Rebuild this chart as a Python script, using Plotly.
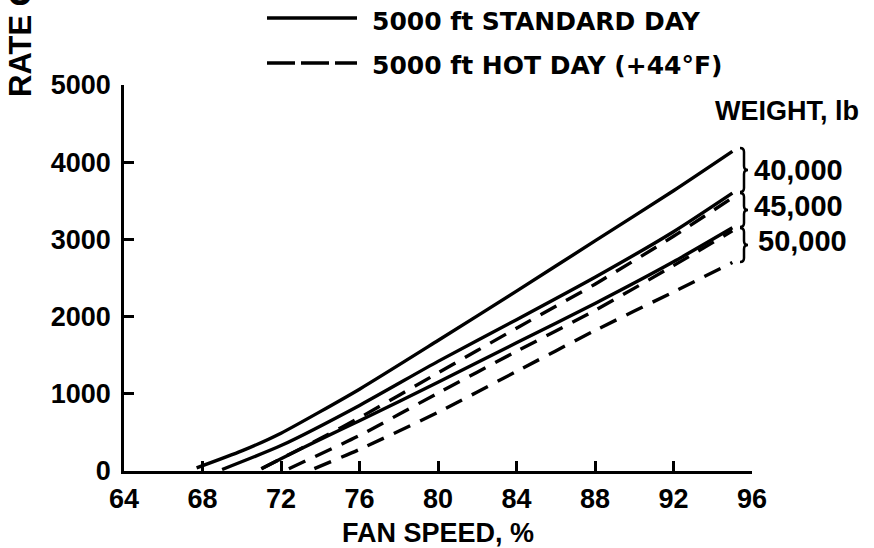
import plotly.graph_objects as go

W, H = 874, 548
L, R, T, B = 124, 122, 85, 77

# ---- data ----
x_ticks = [64, 68, 72, 76, 80, 84, 88, 92, 96]
y_ticks = [0, 1000, 2000, 3000, 4000, 5000]

std40_x = [67.7, 70, 72, 76, 80, 84, 88, 92, 95]
std40_y = [40, 260, 490, 1060, 1690, 2330, 2980, 3630, 4140]

std45_x = [69.0, 72, 76, 80, 84, 88, 92, 95]
std45_y = [20, 330, 850, 1420, 1960, 2510, 3100, 3600]

std50_x = [71.0, 72, 74, 76, 80, 84, 88, 92, 95]
std50_y = [30, 160, 410, 650, 1150, 1660, 2170, 2710, 3150]

hot40_x = [71.0, 72, 74, 76, 80, 84, 88, 92, 95]
hot40_y = [30, 160, 420, 690, 1270, 1850, 2420, 3040, 3540]

hot45_x = [72.4, 76, 80, 84, 88, 92, 95]
hot45_y = [30, 460, 1010, 1550, 2080, 2660, 3110]

hot50_x = [73.7, 76, 80, 84, 88, 92, 95]
hot50_y = [30, 280, 760, 1290, 1820, 2320, 2700]

weights = ["40,000", "45,000", "50,000"]
legend_labels = ["5000 ft STANDARD DAY", "5000 ft HOT DAY (+44\u00b0F)"]

PW = W - L - R
PH = H - T - B


def px(xp):
    return (xp - L) / PW


def py(yp):
    return (H - B - yp) / PH


fig = go.Figure()

LW = 3.4
for xs, ys in [(std40_x, std40_y), (std45_x, std45_y), (std50_x, std50_y)]:
    fig.add_trace(go.Scatter(x=xs, y=ys, mode="lines", line=dict(color="black", width=LW, shape="spline", smoothing=0.6),
                             showlegend=False, hoverinfo="skip"))
for xs, ys in [(hot40_x, hot40_y), (hot45_x, hot45_y), (hot50_x, hot50_y)]:
    fig.add_trace(go.Scatter(x=xs, y=ys, mode="lines",
                             line=dict(color="black", width=LW, shape="spline", smoothing=0.6, dash="18px,11px"),
                             showlegend=False, hoverinfo="skip"))

tickfont = dict(family="Liberation Sans, Arial, sans-serif", size=27, color="black", weight="bold")

fig.update_layout(
    width=W, height=H,
    margin=dict(l=L, r=R, t=T, b=B, autoexpand=False),
    paper_bgcolor="white", plot_bgcolor="white",
    xaxis=dict(range=[64, 96], tickvals=x_ticks, ticktext=[str(v) for v in x_ticks], automargin=False,
               showgrid=False, zeroline=False, showline=True, linecolor="black", linewidth=2.5,
               ticks="inside", ticklen=10, tickwidth=2.5, tickcolor="black",
               tickfont=tickfont, ticklabelstandoff=2,
               title=dict(text="FAN SPEED, %", font=tickfont, standoff=10)),
    yaxis=dict(range=[0, 5000], tickvals=y_ticks, ticktext=[str(v) for v in y_ticks], automargin=False,
               showgrid=False, zeroline=False, showline=True, linecolor="black", linewidth=2.5,
               ticks="inside", ticklen=10, tickwidth=2.5, tickcolor="black",
               tickfont=tickfont, ticklabelstandoff=5),
)

# legend samples
fig.add_shape(type="line", xref="paper", yref="paper", x0=px(267), x1=px(357), y0=py(18), y1=py(18),
              line=dict(color="black", width=LW))
fig.add_shape(type="line", xref="paper", yref="paper", x0=px(267), x1=px(357), y0=py(63), y1=py(63),
              line=dict(color="black", width=LW, dash="28px,6px"))

legfont = dict(family="DejaVu Sans, sans-serif", size=25, color="black", weight="bold")
fig.add_annotation(xref="paper", yref="paper", x=px(370), y=py(21), text=legend_labels[0], showarrow=False,
                   xanchor="left", yanchor="middle", font=legfont)
fig.add_annotation(xref="paper", yref="paper", x=px(370), y=py(65), text=legend_labels[1], showarrow=False,
                   xanchor="left", yanchor="middle", font=legfont)

# y-axis title (clipped at top like the reference)
fig.add_annotation(xref="paper", yref="paper", x=px(20), y=py(99), text="RATE OF CLIMB, ft/min", showarrow=False,
                   textangle=-90, xanchor="center", yanchor="bottom",
                   font=dict(family="Liberation Sans, Arial, sans-serif", size=31, color="black", weight="bold"))

# weight labels
wfont = dict(family="Liberation Sans, Arial, sans-serif", size=27, color="black", weight="bold")
fig.add_annotation(xref="paper", yref="paper", x=px(713), y=py(111), text="WEIGHT, lb", showarrow=False,
                   xanchor="left", yanchor="middle", font=wfont)
for lab, yc, xl in zip(weights, [170, 206, 241], [752, 752, 756]):
    fig.add_annotation(xref="paper", yref="paper", x=px(xl), y=py(yc), text=lab, showarrow=False,
                       xanchor="left", yanchor="middle", font=dict(wfont, size=29))

# braces
def brace(x0, y0, y1, w=8):
    ym = (y0 + y1) / 2
    xm = x0 + w * 0.5
    xt = x0 + w
    r = 4
    pts = [
        f"M {px(x0)},{py(y0)}",
        f"Q {px(xm)},{py(y0)} {px(xm)},{py(y0 + r)}",
        f"L {px(xm)},{py(ym - r)}",
        f"Q {px(xm)},{py(ym)} {px(xt)},{py(ym)}",
        f"Q {px(xm)},{py(ym)} {px(xm)},{py(ym + r)}",
        f"L {px(xm)},{py(y1 - r)}",
        f"Q {px(xm)},{py(y1)} {px(x0)},{py(y1)}",
    ]
    return " ".join(pts)


for y0, y1 in [(148, 192), (193, 227), (228, 262)]:
    fig.add_shape(type="path", xref="paper", yref="paper", path=brace(740, y0, y1),
                  line=dict(color="black", width=2.5))

fig.write_html("out.html", config={"displayModeBar": False},
               post_script="document.body.style.margin='0';document.body.style.padding='0';")
